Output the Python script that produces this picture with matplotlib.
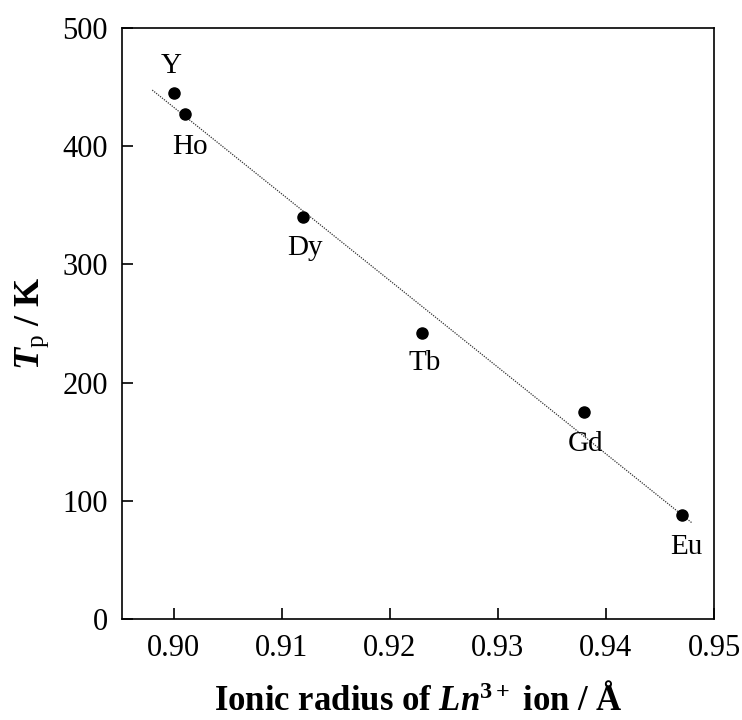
import matplotlib
matplotlib.use("Agg")
import matplotlib.pyplot as plt

plt.rcParams['font.family'] = ['Liberation Serif', 'DejaVu Serif']
plt.rcParams['mathtext.fontset'] = 'custom'
plt.rcParams['mathtext.rm'] = 'Liberation Serif'
plt.rcParams['mathtext.it'] = 'Liberation Serif:italic'
plt.rcParams['mathtext.bf'] = 'Liberation Serif:bold'
plt.rcParams['mathtext.bfit'] = 'Liberation Serif:italic:bold'

# Data
elements = ['Y', 'Ho', 'Dy', 'Tb', 'Gd', 'Eu']
radius = [0.900, 0.901, 0.912, 0.923, 0.938, 0.947]
tp = [445, 427, 340, 242, 175, 88]
fit_x = [0.898, 0.948]
fit_y = [447.5, 81]
xticks = [0.90, 0.91, 0.92, 0.93, 0.94, 0.95]
xtick_labels = ['0.90', '0.91', '0.92', '0.93', '0.94', '0.95']
yticks = [0, 100, 200, 300, 400, 500]

# label offsets in data units (dx, dy)
label_offsets = {'Y': (-0.0002, 23), 'Ho': (0.00045, -28), 'Dy': (0.00015, -26),
                 'Tb': (0.0002, -25), 'Gd': (0.0001, -27), 'Eu': (0.0004, -27)}

fig = plt.figure(figsize=(7.42, 7.2), dpi=100)
ax = fig.add_axes([0.1644, 0.1403, 0.7979, 0.8208])

ax.plot(fit_x, fit_y, linestyle=(0, (1, 1)), color='#333333', linewidth=0.9)
ax.plot(radius, tp, 'o', color='black', markersize=8)

for el, x, y in zip(elements, radius, tp):
    dx, dy = label_offsets[el]
    ax.text(x + dx, y + dy, el, ha='center', va='center', fontsize=21)

ax.set_xlim(0.8952, 0.95)
ax.set_ylim(0, 500)
ax.set_xticks(xticks)
ax.set_xticklabels(xtick_labels)
ax.set_yticks(yticks)
ax.tick_params(direction='in', length=8, width=1.2, labelsize=22)
ax.tick_params(axis='x', pad=11)
ax.tick_params(axis='y', pad=10)
for s in ax.spines.values():
    s.set_linewidth(1.2)

ax.set_xlabel(r'Ionic radius of $\mathbfit{Ln}^{\mathbf{3+}}$ ion / Å',
              fontsize=25, fontweight='bold', labelpad=15)
ax.set_ylabel(r'$\mathbfit{T}_{\mathrm{p}}$ / K', fontsize=26, fontweight='bold', labelpad=8)

fig.savefig('out.png', dpi=100)
